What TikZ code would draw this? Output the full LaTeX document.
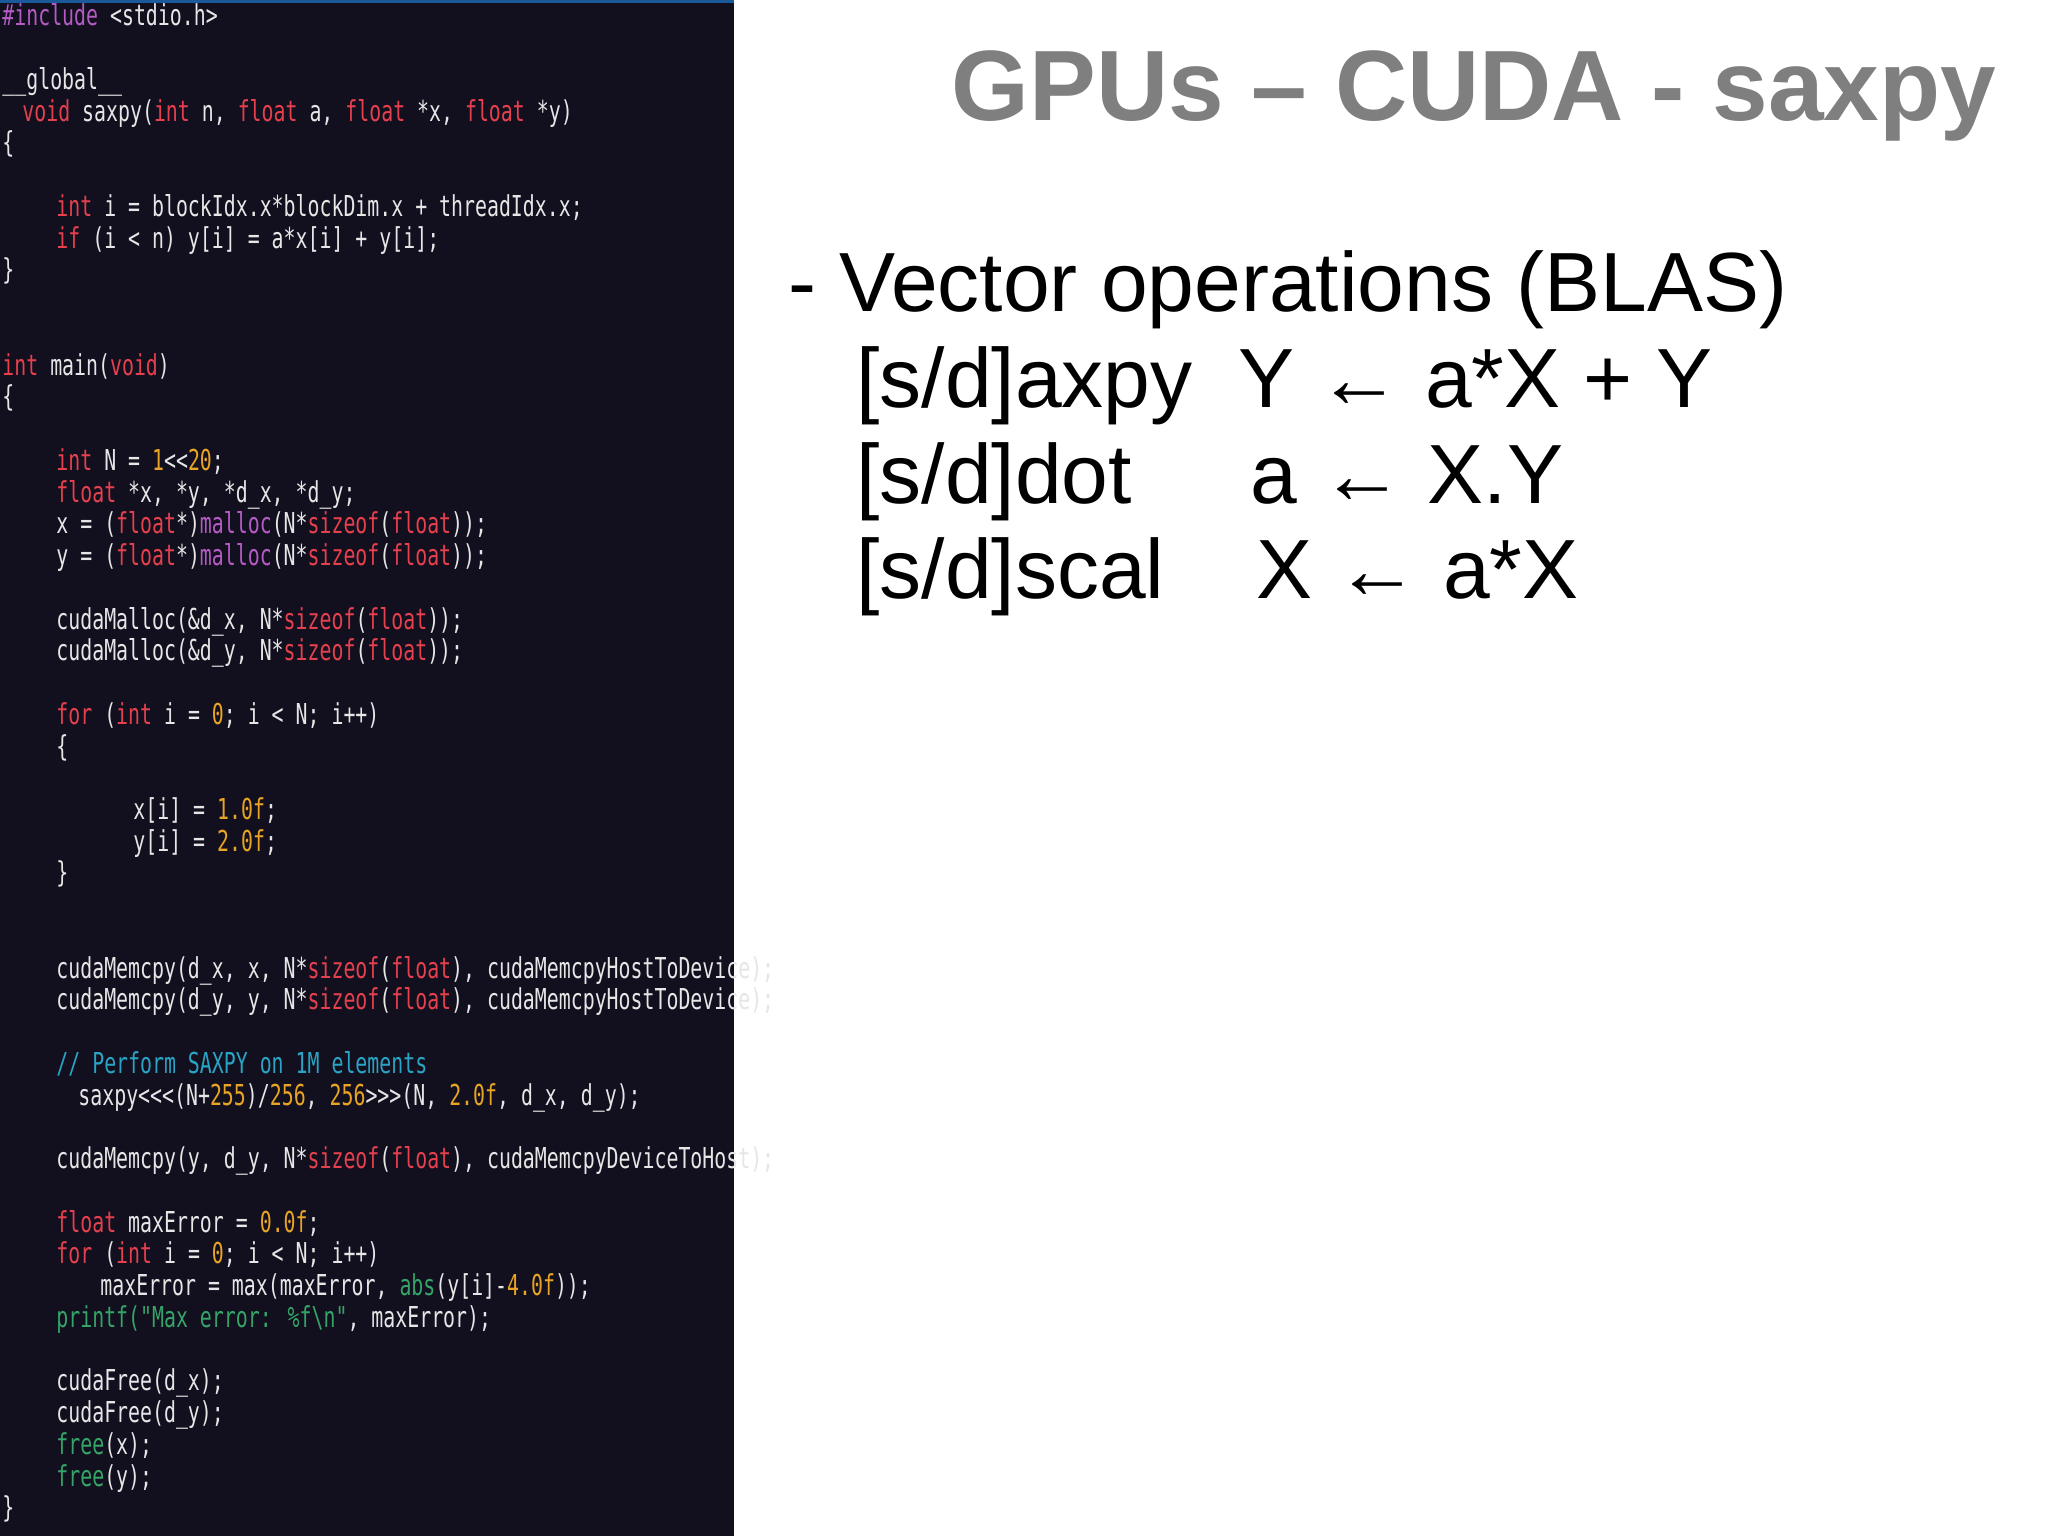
\documentclass[tikz,border=0pt]{standalone}
\usepackage{fontspec}
\setmainfont{Liberation Sans}
\newfontfamily\codefont[FakeStretch=0.69]{DejaVu Sans Mono}
\definecolor{bgdark}{HTML}{120F1E}
\definecolor{topblue}{HTML}{1A5A9A}
\definecolor{kred}{HTML}{E4404E}
\definecolor{knum}{HTML}{E8A424}
\definecolor{kpur}{HTML}{B45CC4}
\definecolor{kcya}{HTML}{2AA4C4}
\definecolor{kgrn}{HTML}{34A468}
\definecolor{ctext}{HTML}{E6E6E6}
\definecolor{titlegray}{HTML}{7F7F7F}
\newcommand\ck[1]{\textcolor{kred}{#1}}
\newcommand\cn[1]{\textcolor{knum}{#1}}
\newcommand\cpu[1]{\textcolor{kpur}{#1}}
\newcommand\ccm[1]{\textcolor{kcya}{#1}}
\newcommand\cgr[1]{\textcolor{kgrn}{#1}}
\begin{document}
\begin{tikzpicture}[x=0.5pt,y=-0.5pt,
  code/.style={anchor=base west,inner sep=0pt,text=ctext,font=\codefont\fontsize{14.4}{16}\selectfont},
  slide/.style={anchor=base west,inner sep=0pt,text=black,font=\fontsize{42}{48}\selectfont}]
\useasboundingbox (0,0) rectangle (2048,1536);
\fill[white] (0,0) rectangle (2048,1536);
\fill[bgdark] (0,0) rectangle (734,1536);
\fill[topblue] (0,0) rectangle (734,3);
\newcommand\cl[3]{\node[code] (l#1) at (#2,{26+31.74*#1}) {#3};}
\cl{0}{2}{\cpu{\#include} <stdio.h>}
\cl{2}{2}{\_\_global\_\_}
\cl{3}{22}{\ck{void} saxpy(\ck{int} n, \ck{float} a, \ck{float} *x, \ck{float} *y)}
\cl{4}{2}{\{}
\cl{6}{56}{\ck{int} i = blockIdx.x*blockDim.x + threadIdx.x;}
\cl{7}{56}{\ck{if} (i < n) y[i] = a*x[i] + y[i];}
\cl{8}{2}{\}}
\cl{11}{2}{\ck{int} main(\ck{void})}
\cl{12}{2}{\{}
\cl{14}{56}{\ck{int} N = \cn{1}<<\cn{20};}
\cl{15}{56}{\ck{float} *x, *y, *d\_x, *d\_y;}
\cl{16}{56}{x = (\ck{float}*)\cpu{malloc}(N*\ck{sizeof}(\ck{float}));}
\cl{17}{56}{y = (\ck{float}*)\cpu{malloc}(N*\ck{sizeof}(\ck{float}));}
\cl{19}{56}{cudaMalloc(\&d\_x, N*\ck{sizeof}(\ck{float}));}
\cl{20}{56}{cudaMalloc(\&d\_y, N*\ck{sizeof}(\ck{float}));}
\cl{22}{56}{\ck{for} (\ck{int} i = \cn{0}; i < N; i++)}
\cl{23}{56}{\{}
\cl{25}{133}{x[i] = \cn{1.0f};}
\cl{26}{133}{y[i] = \cn{2.0f};}
\cl{27}{56}{\}}
\cl{30}{56}{cudaMemcpy(d\_x, x, N*\ck{sizeof}(\ck{float}), cudaMemcpyHostToDevice);}
\cl{31}{56}{cudaMemcpy(d\_y, y, N*\ck{sizeof}(\ck{float}), cudaMemcpyHostToDevice);}
\cl{33}{56}{\ccm{// Perform SAXPY on 1M elements}}
\cl{34}{78}{saxpy<{}<{}<(N+\cn{255})/\cn{256}, \cn{256}>{}>{}>(N, \cn{2.0f}, d\_x, d\_y);}
\cl{36}{56}{cudaMemcpy(y, d\_y, N*\ck{sizeof}(\ck{float}), cudaMemcpyDeviceToHost);}
\cl{38}{56}{\ck{float} maxError = \cn{0.0f};}
\cl{39}{56}{\ck{for} (\ck{int} i = \cn{0}; i < N; i++)}
\cl{40}{100}{maxError = max(maxError, \cgr{abs}(y[i]-\cn{4.0f}));}
\cl{41}{56}{\cgr{printf("Max error: \%f\textbackslash n"}, maxError);}
\cl{43}{56}{cudaFree(d\_x);}
\cl{44}{56}{cudaFree(d\_y);}
\cl{45}{56}{\cgr{free}(x);}
\cl{46}{56}{\cgr{free}(y);}
\cl{47}{2}{\}}
% right side
\node[anchor=base,inner sep=0pt,text=titlegray,font=\bfseries\fontsize{50}{56}\selectfont] (title) at (1474,120) {GPUs – CUDA - saxpy};
\node[slide] (b0) at (788,311) {- Vector operations (BLAS)};
\node[slide] (r1a) at (856,407) {[s/d]axpy};
\node[slide] (r1b) at (1238,407) {Y ← a*X + Y};
\node[slide] (r2a) at (856,503) {[s/d]dot};
\node[slide] (r2b) at (1250,503) {a ← X.Y};
\node[slide] (r3a) at (856,598) {[s/d]scal};
\node[slide] (r3b) at (1256,598) {X ← a*X};
\end{tikzpicture}
\end{document}
